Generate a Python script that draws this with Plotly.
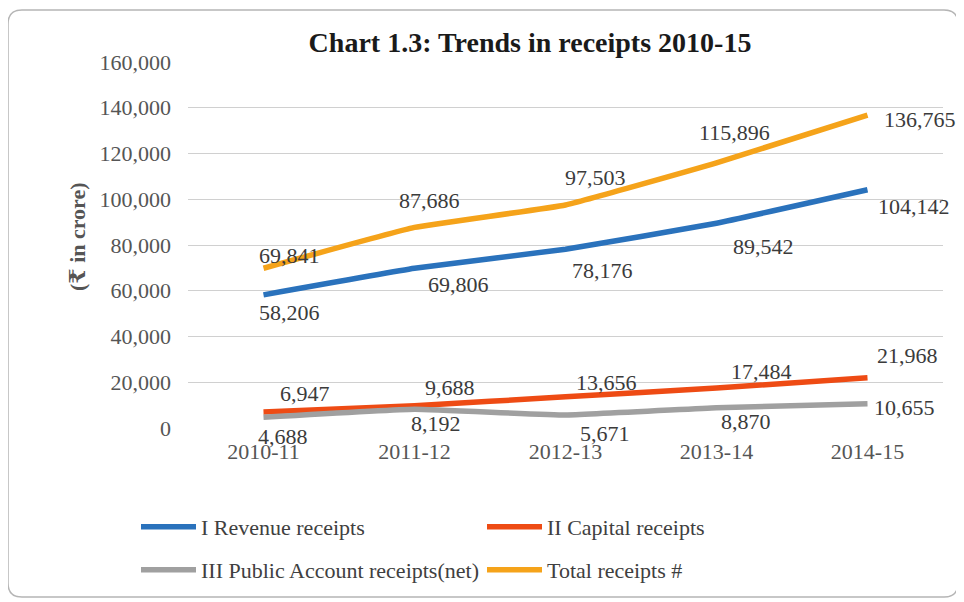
import plotly.graph_objects as go

# ---- data ----
years = ["2010-11", "2011-12", "2012-13", "2013-14", "2014-15"]
revenue = [58206, 69806, 78176, 89542, 104142]
capital = [6947, 9688, 13656, 17484, 21968]
public_acct = [4688, 8192, 5671, 8870, 10655]
total = [69841, 87686, 97503, 115896, 136765]
series_names = ["I Revenue receipts", "II Capital receipts",
                "III Public Account receipts(net)", "Total receipts #"]
y_tick_vals = [0, 20000, 40000, 60000, 80000, 100000, 120000, 140000, 160000]
y_tick_text = ["0", "20,000", "40,000", "60,000", "80,000", "100,000",
               "120,000", "140,000", "160,000"]
y_title = "(₹ in crore)"
chart_title = "Chart 1.3: Trends in receipts 2010-15"

# ---- styling ----
SERIF = "Liberation Serif, Times New Roman, DejaVu Serif, serif"
colors = ["#2A72BC", "#EE4B14", "#A0A0A0", "#F5A31A"]
legends = ["legend", "legend", "legend2", "legend2"]
# label offsets in pixels (xshift, yshift) per series / point
label_shifts = [
    [(26, -18), (44, -16.5), (37, -21), (47, -23), (46, -17)],      # revenue
    [(41, 18.5), (35, 18.5), (41, 14), (45, 16.5), (40, 22.5)],     # capital
    [(19, -19), (21, -14), (39, -18), (29, -14), (37, -4)],         # public
    [(26, 12.5), (15, 26.5), (30, 27.5), (18, 30), (52, -4)],       # total
]

all_series = [revenue, capital, public_acct, total]

# plot area in figure pixels
PL, PR, PT, PB = 180, 935, 54, 420
PW, PH = PR - PL, PB - PT

fig = go.Figure()
for name, vals, col, lg in zip(series_names, all_series, colors, legends):
    fig.add_trace(go.Scatter(
        x=years, y=vals, name=name, mode="lines",
        line=dict(color=col, width=5.5, shape="spline", smoothing=0.3),
        legend=lg, hoverinfo="x+y+name",
    ))

annotations = []
for vals, shifts in zip(all_series, label_shifts):
    for yr, v, (dx, dy) in zip(years, vals, shifts):
        annotations.append(dict(
            x=yr, y=v, text=f"{v:,}", showarrow=False,
            xshift=dx, yshift=dy,
            font=dict(family=SERIF, size=22, color="#3b3b3b"),
        ))

# y-axis title
annotations.append(dict(
    text=f"<b>{y_title}</b>", textangle=-90, showarrow=False,
    xref="paper", yref="paper", x=(69 - PL) / PW, y=(PB - 229) / PH,
    xanchor="center", yanchor="middle",
    font=dict(family=SERIF, size=22, color="#555555"),
))

# rounded chart border (pixel coordinates relative to plot bottom-left)
L, R, B, T, r = -180, 770, -169, 418, 14
border_path = (f"M{L+r},{B} L{R-r},{B} Q{R},{B} {R},{B+r} L{R},{T-r} Q{R},{T} {R-r},{T} "
               f"L{L+r},{T} Q{L},{T} {L},{T-r} L{L},{B+r} Q{L},{B} {L+r},{B} Z")

legend_common = dict(orientation="h", x=(128 - PL) / PW, xanchor="left",
                     entrywidth=276, itemwidth=55,
                     font=dict(family=SERIF, size=22, color="#404040"),
                     bgcolor="rgba(0,0,0,0)")

fig.update_layout(
    width=964, height=602,
    margin=dict(l=PL, r=964 - PR, t=PT, b=602 - PB, autoexpand=False),
    paper_bgcolor="white", plot_bgcolor="white",
    title=dict(text=f"<b>{chart_title}</b>",
               x=522 / 964, xref="container", xanchor="center",
               y=1 - 34 / 602, yref="container", yanchor="middle",
               font=dict(family=SERIF, size=28, color="#1a1a1a")),
    xaxis=dict(
        type="category", range=[-0.5, 4.5],
        showgrid=False, zeroline=False, showline=False,
        ticks="", ticklabelstandoff=8,
        tickfont=dict(family=SERIF, size=22, color="#555555"),
    ),
    yaxis=dict(
        range=[0, 160000], tickvals=y_tick_vals, ticktext=y_tick_text,
        showgrid=True, gridcolor="#d0d0d0", gridwidth=1,
        zeroline=False, showline=False, ticks="", ticklabelstandoff=16,
        tickfont=dict(family=SERIF, size=22, color="#555555"),
    ),
    legend=dict(**legend_common, y=(PB - 519) / PH, yanchor="middle"),
    legend2=dict(**legend_common, y=(PB - 562) / PH, yanchor="middle"),
    annotations=annotations,
    shapes=[dict(type="path", path=border_path,
                 xref="paper", yref="paper", xsizemode="pixel", ysizemode="pixel",
                 xanchor=0, yanchor=0,
                 line=dict(color="#b5b5b5", width=1.5), layer="below")],
    showlegend=True,
)

fig.write_html("out.html")
